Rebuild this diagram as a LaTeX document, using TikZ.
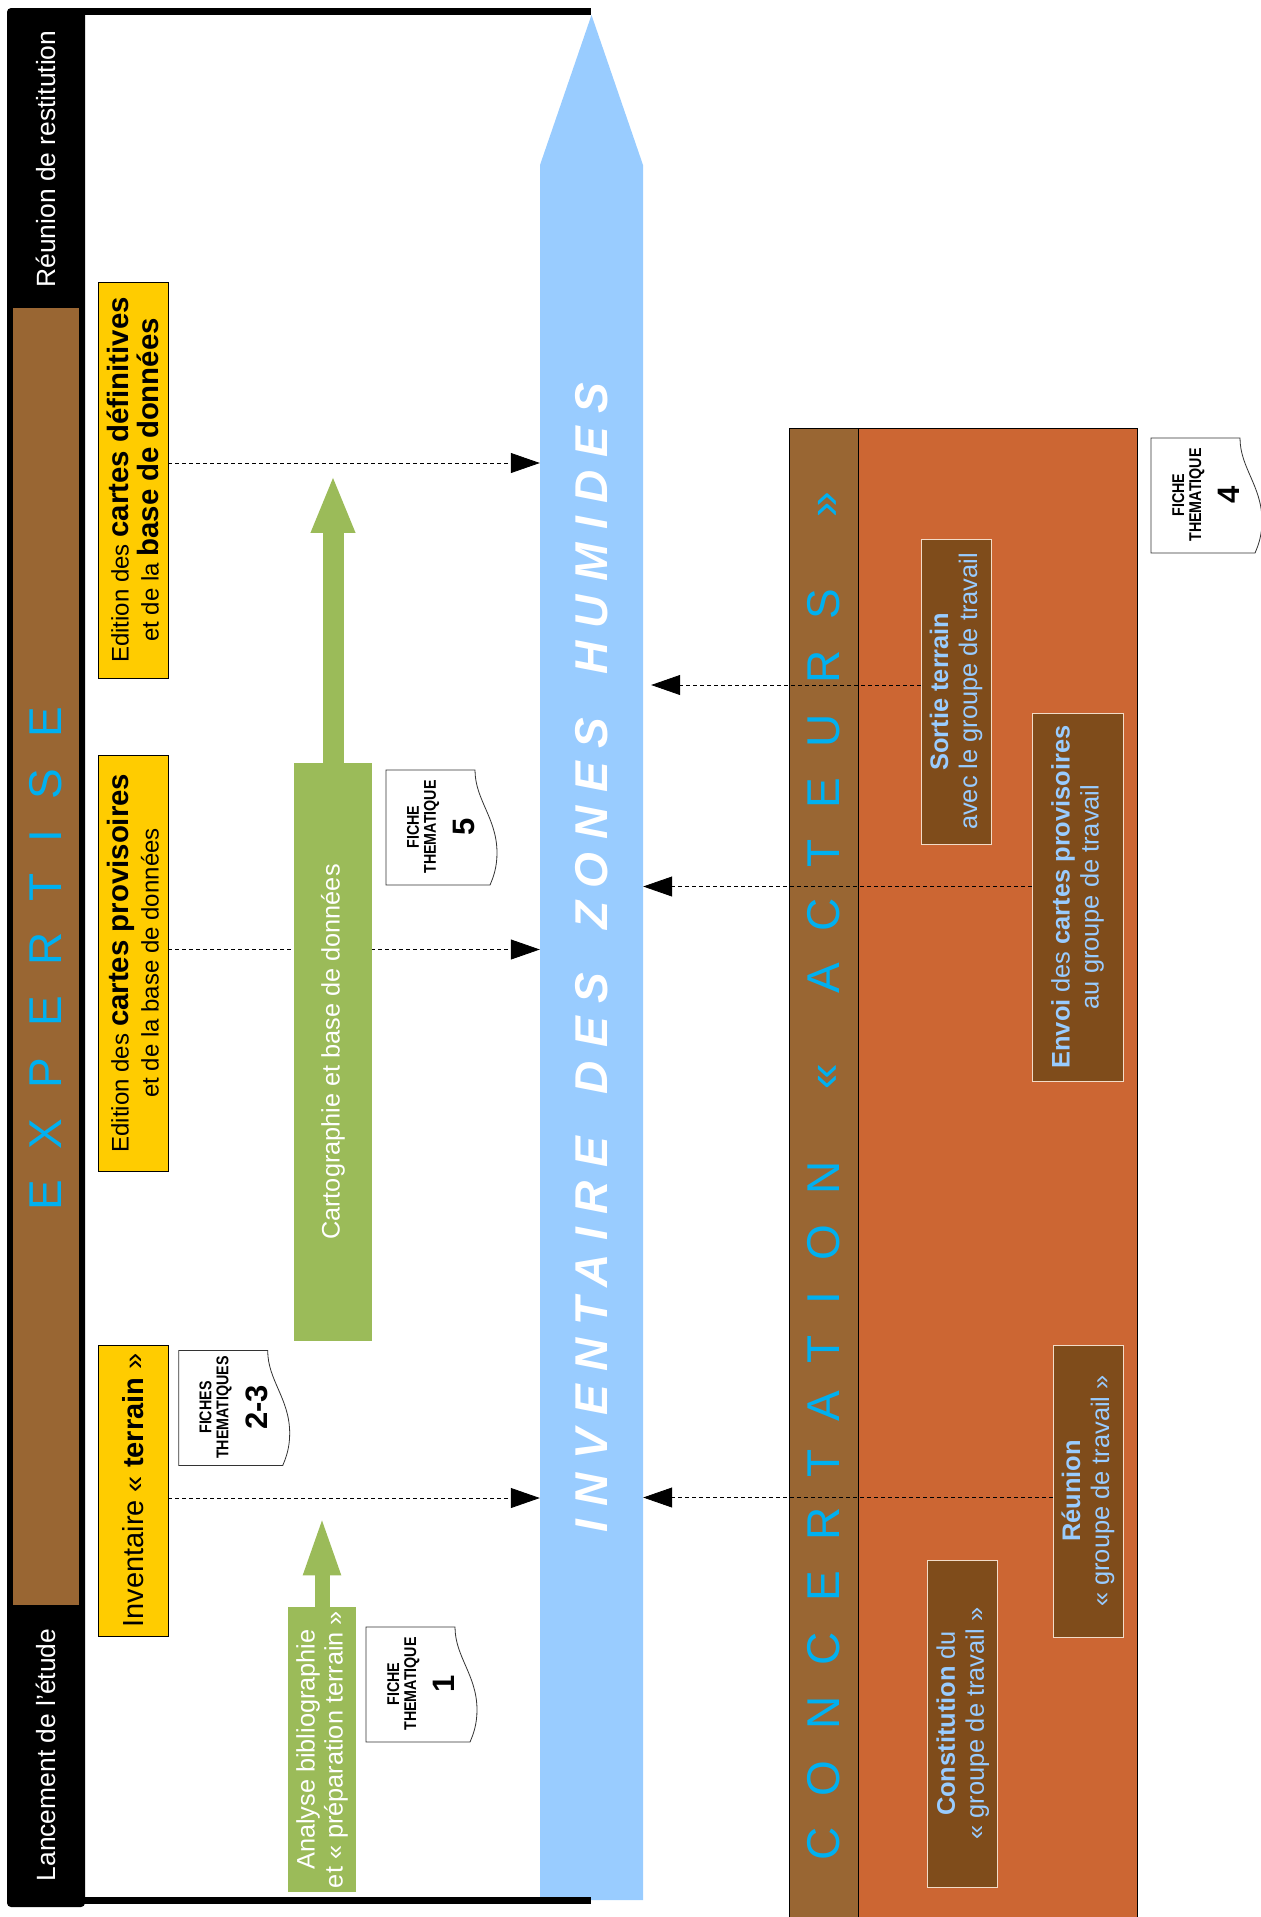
\documentclass[tikz,border=0pt]{standalone}
\usepackage{fontspec}
\setmainfont{Liberation Sans}
\newfontfamily\espace[LetterSpace=67]{Liberation Sans}
\newfontfamily\espaceinv[LetterSpace=29]{Liberation Sans}
\newfontfamily\etroit[FakeStretch=0.84]{Liberation Sans}
\usepackage{xcolor}
\usetikzlibrary{arrows.meta, positioning, calc}

\definecolor{jaune}{HTML}{FFCC00}
\definecolor{vert}{HTML}{9BBB59}
\definecolor{bleu}{HTML}{99CCFF}
\definecolor{bleuvif}{HTML}{00B0F0}
\definecolor{bleuclair}{HTML}{99CCFF}
\definecolor{orangec}{HTML}{CC6633}
\definecolor{brun}{HTML}{996633}
\definecolor{brunfonce}{HTML}{7F4C1B}
\definecolor{bordclair}{HTML}{F2DCC8}

\newcommand{\gras}[1]{{\fontsize{29.4}{30}\selectfont\bfseries #1}}
\newcommand{\fiche}[4]{%
  \begin{scope}[shift={(#2)}]
    \draw[fichebord] (0,0) -- (89,0) .. controls (89,30) and (111,48) .. (111,83)
      .. controls (111,98) and (107,108) .. (104,115) -- (0,115) -- cycle;
    \node[fichetexte] (#1) at (55,57) {#3\\[13pt]{\normalfont\bfseries\fontsize{31}{31}\selectfont #4}};
  \end{scope}}

\begin{document}
\begin{tikzpicture}[x=1pt, y=-1pt,
    jalon/.style={fill=jaune, draw=black, line width=0.8pt, rotate=90, align=center, inner sep=0pt, font=\fontsize{24}{30}\selectfont},
    etape/.style={fill=vert, text=white, rotate=90, align=center, inner sep=0pt, font=\fontsize{25.3}{28}\selectfont},
    acteur/.style={fill=brunfonce, draw=bordclair, line width=0.8pt, text=bleuclair, rotate=90, align=center, inner sep=0pt, font=\fontsize{25.4}{29}\selectfont},
    titre/.style={text=white, rotate=90, font=\fontsize{26.4}{30}\selectfont},
    bande/.style={text=bleuvif, rotate=90, font=\espace\fontsize{46}{50}\selectfont},
    lien/.style={draw=black, line width=0.8pt, dash pattern=on 4pt off 3pt, -{Triangle[length=29pt, width=20pt]}},
    fichebord/.style={fill=white, draw=black!80, line width=0.8pt},
    fichetexte/.style={rotate=90, align=center, inner sep=0pt, font=\etroit\fontsize{17}{17}\selectfont\bfseries}
  ]
  \useasboundingbox (0,0) rectangle (1261,1917);

  \fill[bleu] (540,1900) -- (540,165) -- (591.5,15) -- (643,165) -- (643,1900) -- cycle;
  \node[rotate=90, minimum width=1885, minimum height=103, inner sep=0pt, text=white,
        font=\espaceinv\fontsize{46}{50}\selectfont\bfseries\itshape] (inv) at (591.5,957.5)
    {INVENTAIRE \hspace{0.37em}DES \hspace{0.37em}ZONES \hspace{0.37em}HUMIDES};

  \fill[black, rounded corners=4pt] (7,8) rectangle (85,1907);
  \fill[brun] (13,308) rectangle (79,1605);
  \fill[black] (80,8) rectangle (591,15);
  \fill[black] (80,1897) rectangle (591,1904);
  \node[titre] (restit) at (46,159) {Réunion de restitution};
  \node[titre] (lance) at (46,1755) {Lancement de l'étude};
  \node[bande] (expert) at (46,959) {EXPERTISE};

  \filldraw[fill=orangec, draw=black, line width=0.8pt] (789,428) rectangle (1137,1930);
  \filldraw[fill=brun, draw=black, line width=0.8pt] (789,428) rectangle (858,1930);
  \node[bande] (concert) at (823.5,1176)
    {CONCERTATION \hspace{0.6em}«\hspace{0.6em} ACTEURS \hspace{0.6em}»};

  \node[jalon, minimum width=396, minimum height=70] (def) at (133,480)
    {Edition des \gras{cartes définitives}\\et de la \gras{base de données}};
  \node[jalon, minimum width=416, minimum height=70] (prov) at (133,963)
    {Edition des \gras{cartes provisoires}\\et de la base de données};
  \node[jalon, minimum width=291, minimum height=70, font=\fontsize{29}{31}\selectfont] (terr) at (133,1490.5)
    {Inventaire « \textbf{terrain} »};

  \node[acteur, minimum width=305, minimum height=70] (sortie) at (956,691.5)
    {\textbf{Sortie terrain}\\avec le groupe de travail};
  \node[acteur, minimum width=368, minimum height=91] (envoi) at (1077.5,897)
    {\textbf{Envoi} des \textbf{cartes provisoires}\\au groupe de travail};
  \node[acteur, minimum width=292, minimum height=70] (reunion) at (1088,1491)
    {\textbf{Réunion}\\« groupe de travail »};
  \node[acteur, minimum width=327, minimum height=70] (constit) at (962.75,1723.5)
    {\textbf{Constitution} du\\« groupe de travail »};

  \path (def.south) ++(0,-17) coordinate (d1);
  \draw[lien] (d1) -- (d1 -| inv.north);
  \path (prov.south) ++(0,-13.5) coordinate (d2);
  \draw[lien] (d2) -- (d2 -| inv.north);
  \path (terr.south) ++(0,7.5) coordinate (d3);
  \draw[lien] (d3) -- (d3 -| inv.north);
  \path (sortie.north) ++(0,-6.5) coordinate (a1);
  \draw[lien] (a1) -- ([xshift=8pt]a1 -| inv.south);
  \path (envoi.north) ++(0,-10.5) coordinate (a2);
  \draw[lien] (a2) -- (a2 -| inv.south);
  \path (reunion.north) ++(0,6.5) coordinate (a3);
  \draw[lien] (a3) -- (a3 -| inv.south);

  \node[etape, minimum width=578, minimum height=78] (carto) at (333,1052)
    {Cartographie et base de données};
  \draw[vert, line width=21pt, -{Triangle[length=58pt, width=40pt]}] (carto.east) -- ++(0,-288);
  \node[etape, minimum width=285, minimum height=68] (ana) at (322,1749.5)
    {Analyse bibliographie\\et « préparation terrain »};
  \draw[vert, line width=15pt, -{Triangle[length=61pt, width=33pt]}] (ana.east) -- ++(0,-92.5);

  \fiche{f1}{366,1627}{FICHE\\THEMATIQUE}{1}
  \fiche{f23}{178.7,1350.5}{FICHES\\THEMATIQUES}{2-3}
  \fiche{f5}{386,770}{FICHE\\THEMATIQUE}{5}
  \fiche{f4}{1151,438}{FICHE\\THEMATIQUE}{4}
\end{tikzpicture}
\end{document}
